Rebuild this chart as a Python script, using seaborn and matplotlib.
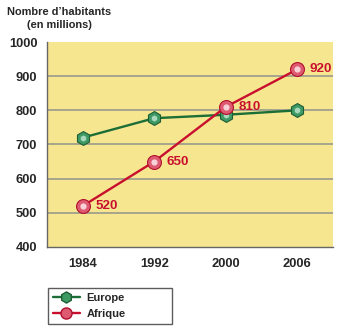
import matplotlib
matplotlib.use("Agg")
import matplotlib.pyplot as plt
import seaborn as sns
import pandas as pd
from matplotlib.lines import Line2D

years = ["1984", "1992", "2000", "2006"]
europe = [720, 777, 787, 800]
afrique = [520, 650, 810, 920]
y_ticks = [400, 500, 600, 700, 800, 900, 1000]

sns.set_style("white")
plt.rcParams["font.family"] = ["Liberation Sans", "DejaVu Sans"]

df = pd.DataFrame({
    "pos": list(range(len(years))) * 2,
    "value": europe + afrique,
    "serie": ["Europe"] * len(years) + ["Afrique"] * len(years),
})

fig = plt.figure(figsize=(3.43, 3.31), dpi=100)
ax = fig.add_axes([0.137, 0.254, 0.834, 0.619])
ax.set_facecolor("#F7E690")

green, green_face, green_hi = "#1B6E35", "#3E9A64", "#A9D8BC"
red, red_face, red_hi = "#C8102E", "#DD5A70", "#F8D0D8"

for y in y_ticks[1:-1]:
    ax.axhline(y, color="#9A9A8E", lw=1.2, zorder=1)

sns.lineplot(data=df[df.serie == "Europe"], x="pos", y="value", ax=ax,
             color=green, lw=1.7, marker="h", markersize=10,
             markerfacecolor=green_face, markeredgecolor="#1E5E35",
             markeredgewidth=0.8, zorder=3)
sns.lineplot(data=df[df.serie == "Europe"], x="pos", y="value", ax=ax,
             lw=0, marker="h", markersize=4.5, markerfacecolor=green_hi,
             markeredgewidth=0, zorder=4)
sns.lineplot(data=df[df.serie == "Afrique"], x="pos", y="value", ax=ax,
             color=red, lw=1.7, marker="o", markersize=10,
             markerfacecolor=red_face, markeredgecolor="#B0102E",
             markeredgewidth=0.8, zorder=5)
sns.lineplot(data=df[df.serie == "Afrique"], x="pos", y="value", ax=ax,
             lw=0, marker="o", markersize=4.5, markerfacecolor=red_hi,
             markeredgewidth=0, zorder=6)

for i, v in enumerate(afrique):
    ax.annotate(str(v), (i, v), xytext=(9, 0), textcoords="offset points",
                color=red, fontsize=9.6, fontweight="bold", va="center", ha="left",
                zorder=7)

ax.set_xlim(-0.5, len(years) - 0.5)
ax.set_ylim(400, 1000)
ax.set_yticks(y_ticks)
ax.set_yticklabels([str(t) for t in y_ticks], fontsize=9.3, fontweight="bold")
ax.set_xticks(range(len(years)))
ax.set_xticklabels(years, fontsize=9.3, fontweight="bold")
ax.set_xticks([i - 0.5 for i in range(len(years) + 1)], minor=True)
ax.tick_params(axis="x", which="major", length=0, pad=8)
ax.tick_params(axis="x", which="minor", length=5, width=1, color="#666666", direction="out")
ax.tick_params(axis="y", length=4, width=1, color="#666666", direction="out", pad=3)
ax.set_xlabel("")
ax.set_ylabel("")
for s in ["top", "right"]:
    ax.spines[s].set_visible(False)
for s in ["left", "bottom"]:
    ax.spines[s].set_color("#666666")
    ax.spines[s].set_linewidth(1)

fig.text(0.172, 0.978, "Nombre d’habitants\n(en millions)", ha="center", va="top",
         fontsize=7.9, fontweight="bold", linespacing=1.3)

handles = [
    Line2D([], [], color=green, lw=1.7, marker="h", markersize=8,
           markerfacecolor=green_face, markeredgecolor="#1E5E35"),
    Line2D([], [], color=red, lw=1.7, marker="o", markersize=8,
           markerfacecolor=red_face, markeredgecolor="#B0102E"),
]
leg = fig.legend(handles, ["Europe", "Afrique"], loc="upper left",
                 bbox_to_anchor=(0.14, 0.13, 0.362, 0), mode="expand",
                 frameon=True, fancybox=False,
                 prop={"size": 8, "weight": "bold"}, handlelength=2.4,
                 borderpad=0.45, labelspacing=0.5, handletextpad=0.6,
                 borderaxespad=0)
leg.get_frame().set_edgecolor("#333333")
leg.get_frame().set_linewidth(1)

fig.savefig("out.png", dpi=100)
